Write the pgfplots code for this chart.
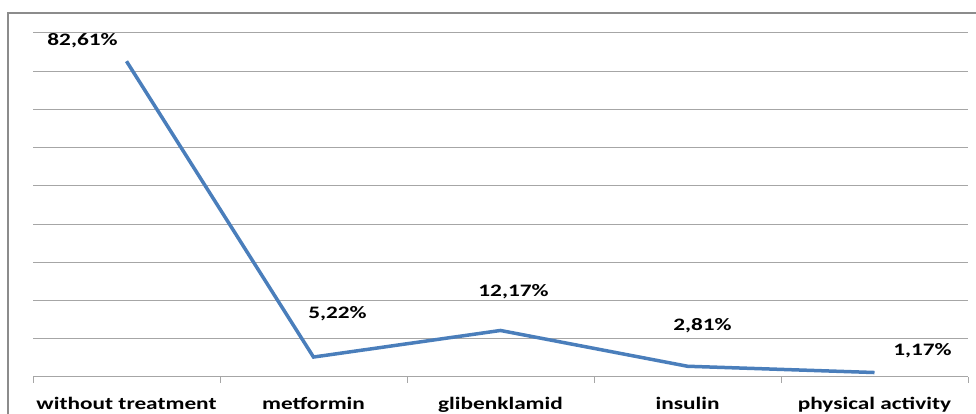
\documentclass[border=0pt]{standalone}
\usepackage{fontspec}
\setmainfont{Carlito}[FakeStretch=1.33]
\usepackage{pgfplots}
\pgfplotsset{compat=1.18}
\usetikzlibrary{calc}
\definecolor{linblue}{HTML}{4A7EBB}
\definecolor{gridgray}{HTML}{A6A6A6}
\definecolor{framegray}{HTML}{8C8C8C}
\newcommand{\lbl}{\bfseries\fontsize{17.5}{20}\selectfont}

\begin{document}
\begin{tikzpicture}[x=1pt,y=1pt]
\begin{axis}[
  name=ax,
  scale only axis, width=935pt, height=344pt,
  xmin=-0.5, xmax=4.5, ymin=0, ymax=90,
  axis x line*=bottom, axis y line*=left,
  x axis line style={gridgray, line width=1pt},
  y axis line style={draw=none},
  ytick={10,20,...,90}, yticklabels={},
  ymajorgrids, major grid style={gridgray, line width=1pt},
  xtick={0,1,2,3,4},
  xticklabels={without treatment, metformin, glibenklamid, insulin, physical activity},
  major tick length=0pt,
  minor xtick={-0.5,0.5,1.5,2.5,3.5,4.5},
  minor tick length=6pt, tick align=outside,
  minor tick style={gridgray, line width=1pt},
  xticklabel style={font=\lbl, anchor=base, yshift=-33pt},
  clip=false,
]
\addplot[linblue, line width=3.5pt, mark=none] coordinates {
  (0,82.61) (1,5.22) (2,12.17) (3,2.81) (4,1.17)
};
\node[font=\lbl] at (axis cs:0,82.61) [xshift=-44pt, yshift=21pt] {82,61\%};
\node[font=\lbl] at (axis cs:1,5.22) [xshift=24pt, yshift=43pt] {5,22\%};
\node[font=\lbl] at (axis cs:2,12.17) [xshift=13pt, yshift=39pt] {12,17\%};
\node[font=\lbl] at (axis cs:3,2.81) [xshift=15pt, yshift=41pt] {2,81\%};
\node[font=\lbl] at (axis cs:4,1.17) [xshift=48pt, yshift=22pt] {1,17\%};
\end{axis}
% chart frame, cut off at right and bottom
\draw[framegray, line width=2pt]
  ($(ax.south west)+(-25,-40)$) -- ($(ax.south west)+(-25,364)$) -- ($(ax.south west)+(945,364)$);
\pgfresetboundingbox
\path[use as bounding box] ($(ax.south west)+(-33,-37)$) rectangle ($(ax.south west)+(943,377)$);
\end{tikzpicture}
\end{document}
